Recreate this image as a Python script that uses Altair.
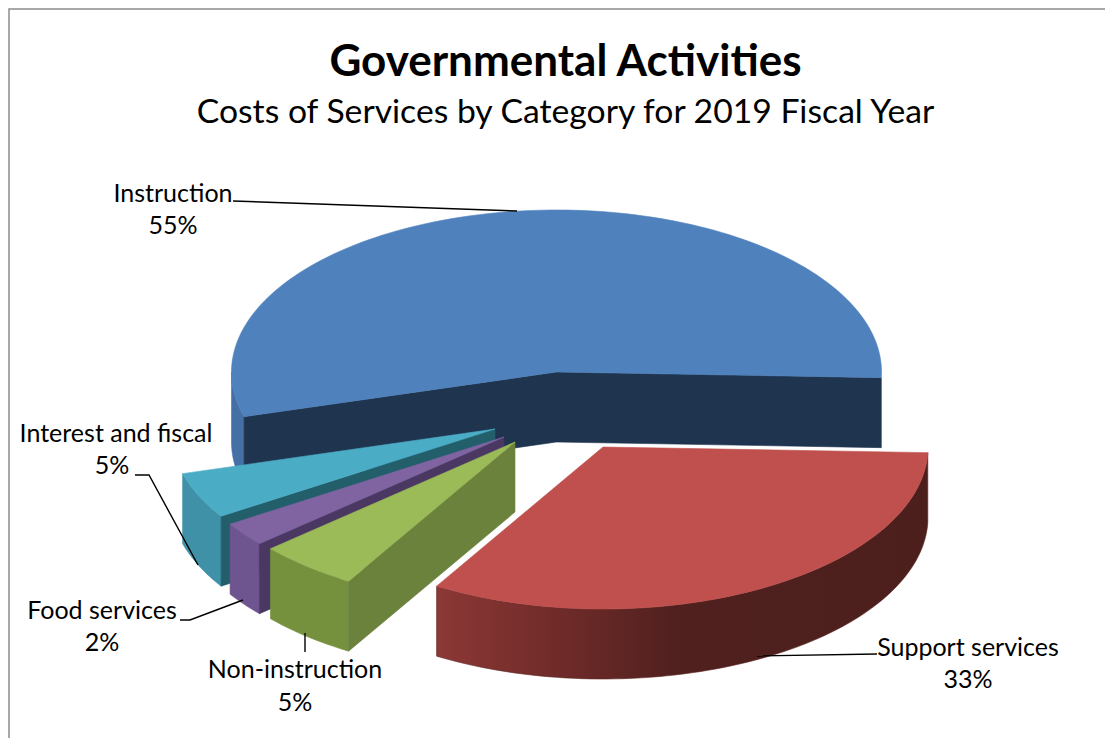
import math
import altair as alt
import pandas as pd

categories = ["Support services", "Non-instruction", "Food services", "Interest and fiscal", "Instruction"]
shares = [33.0, 5.0, 2.4, 4.6, 55.0]

# ---- picture geometry, not data ----
FONT = "Lato"
START_DEG = 2.0
RX, RY, DEPTH = 325, 162, 70
APEX = {
    "Support services": (603, 447),
    "Non-instruction": (515, 442),
    "Food services": (504, 437),
    "Interest and fiscal": (495, 429),
    "Instruction": (556.5, 372),
}
COLORS = {  # top, cut wall, outer wall
    "Support services": ("#c0504d", "#4c1f1d", None),
    "Non-instruction": ("#9bbb59", "#6b823c", "#76913e"),
    "Food services": ("#8064a2", "#4b3862", "#6e558f"),
    "Interest and fiscal": ("#4bacc6", "#235e6b", "#3f91a8"),
    "Instruction": ("#4f81bd", "#1f344f", "#4470a6"),
}
LABEL_POS = {
    "Instruction": (173, 194),
    "Support services": (968, 648),
    "Interest and fiscal": (116, 434),
    "Food services": (102, 611),
    "Non-instruction": (295, 670),
}
LABEL_PCT_POS = {
    "Instruction": (173, 226),
    "Support services": (968, 680),
    "Interest and fiscal": (112, 466),
    "Food services": (102, 643),
    "Non-instruction": (295, 703),
}
LEADERS = [
    [(233, 201), (517, 211)],
    [(877, 654), (757, 656)],
    [(135, 475), (149, 475), (198, 565)],
    [(180, 620), (190, 620), (243, 600)],
    [(305, 633), (305, 652)],
]

X_SCALE = alt.Scale(domain=[8, 1105], nice=False, zero=False)
Y_SCALE = alt.Scale(domain=[738, 8], nice=False, zero=False)
X = alt.X("x:Q", scale=X_SCALE, axis=None)
Y = alt.Y("y:Q", scale=Y_SCALE, axis=None)


def pt(name, deg, drop=0):
    ax, ay = APEX[name]
    t = math.radians(deg)
    return (ax + RX * math.cos(t), ay + RY * math.sin(t) + drop)


def arc(name, a, b, drop=0):
    n = max(2, int(abs(b - a) / 1.5))
    return [pt(name, a + (b - a) * i / n, drop) for i in range(n + 1)]


def poly(points, fill, stroke=None):
    pts = list(points) + [points[0]]
    df = pd.DataFrame({"x": [p[0] for p in pts], "y": [p[1] for p in pts], "i": range(len(pts))})
    s = stroke if stroke else fill
    return alt.Chart(df).mark_line(fill=fill, stroke=s, strokeWidth=0.6, interpolate="linear").encode(
        x=X, y=Y, order="i:Q"
    )


# slice spans in the drawing direction (clockwise on screen from the right)
spans = {}
a = START_DEG
for c, v in zip(categories, shares):
    spans[c] = (a, a + v * 3.6)
    a += v * 3.6

layers = []

# Instruction: back slice
n = "Instruction"
s, e = spans[n]
top, cut, outer = COLORS[n]
ax, ay = APEX[n]
layers.append(poly(arc(n, s, 180) + arc(n, 180, s, DEPTH), outer))
layers.append(poly([pt(n, s), (ax, ay), pt(n, e), pt(n, e, DEPTH), (ax, ay + DEPTH), pt(n, s, DEPTH)], cut))
layers.append(poly([(ax, ay)] + arc(n, s, e), top))

# Interest, Food, Non-instruction: outer wall, cut wall, top
for n in ["Interest and fiscal", "Food services", "Non-instruction"]:
    s, e = spans[n]
    top, cut, outer = COLORS[n]
    ax, ay = APEX[n]
    layers.append(poly(arc(n, s, e) + arc(n, e, s, DEPTH), outer))
    layers.append(poly([(ax, ay), pt(n, s), pt(n, s, DEPTH), (ax, ay + DEPTH)], cut))
    layers.append(poly([(ax, ay)] + arc(n, s, e), top))

# Support services: outer wall with the shading running across it, then top
n = "Support services"
s, e = spans[n]
top, cut, _ = COLORS[n]
ax, ay = APEX[n]
red_wall = alt.Gradient(
    gradient="linear", x1=0, x2=1, y1=0, y2=0,
    stops=[
        alt.GradientStop(offset=0, color="#8c3836"),
        alt.GradientStop(offset=0.25, color="#6f2b29"),
        alt.GradientStop(offset=0.5, color="#4f201e"),
        alt.GradientStop(offset=1, color="#4c1f1d"),
    ],
)
layers.append(poly(arc(n, s, e) + arc(n, e, s, DEPTH), red_wall, "#5c2624"))
layers.append(poly([(ax, ay)] + arc(n, s, e), top))

# leader lines
for seg in LEADERS:
    df = pd.DataFrame({"x": [p[0] for p in seg], "y": [p[1] for p in seg], "i": range(len(seg))})
    layers.append(alt.Chart(df).mark_line(color="#000000", strokeWidth=1.4).encode(x=X, y=Y, order="i:Q"))

# labels
rows = []
for c, v in zip(categories, shares):
    rows.append({"x": LABEL_POS[c][0], "y": LABEL_POS[c][1], "t": c})
    rows.append({"x": LABEL_PCT_POS[c][0], "y": LABEL_PCT_POS[c][1], "t": f"{round(v)}%"})
layers.append(
    alt.Chart(pd.DataFrame(rows))
    .mark_text(font=FONT, fontSize=25, color="#000000", align="center", baseline="middle")
    .encode(x=X, y=Y, text="t:N")
)

# chart frame
frame_df = pd.DataFrame({"x": [1105, 9, 9], "y": [9, 9, 738], "i": [0, 1, 2]})
layers.append(alt.Chart(frame_df).mark_line(color="#8c8c8c", strokeWidth=1.5).encode(x=X, y=Y, order="i:Q"))

chart = (
    alt.layer(*layers)
    .properties(
        width=1097,
        height=730,
        padding=0,
        autosize=alt.AutoSizeParams(type="none"),
        title=alt.TitleParams(
            text="Governmental Activities",
            subtitle="Costs of Services by Category for 2019 Fiscal Year",
            font=FONT,
            fontSize=44,
            fontWeight="bold",
            color="#000000",
            subtitleFont=FONT,
            subtitleFontSize=33.7,
            subtitleColor="#000000",
            subtitlePadding=11,
            anchor="middle",
            dx=9,
            offset=-124,
        ),
    )
    .configure_view(stroke=None)
)

chart.save("out.html", embed_options={"renderer": "svg", "actions": False})
